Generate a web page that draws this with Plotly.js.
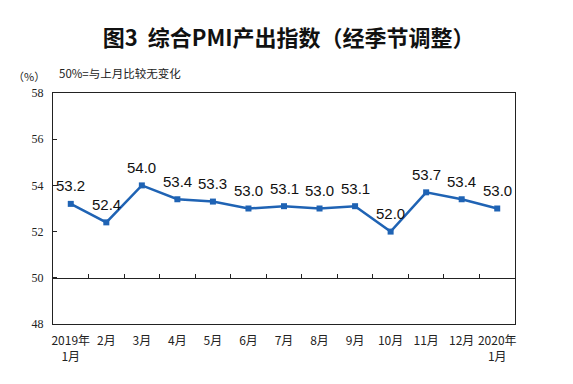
<!DOCTYPE html>
<html><head><meta charset="utf-8">
<script src="https://cdn.plot.ly/plotly-3.0.1.min.js"></script>
<style>html,body{margin:0;padding:0;background:#fff;}#c{width:573px;height:384px;}</style>
</head><body><div id="c"></div>
<script>
var categories = ["2019年<br>1月","2月","3月","4月","5月","6月","7月","8月","9月","10月","11月","12月","2020年<br>1月"];
var values = [53.2,52.4,54.0,53.4,53.3,53.0,53.1,53.0,53.1,52.0,53.7,53.4,53.0];
var labels = values.map(function(v){return v.toFixed(1);});
var yTicks = [48,50,52,54,56,58];

var blue = "#1F63B4";
var cjk = "SimSun, 'Noto Sans CJK SC', sans-serif";

var traces = [
  {x: categories, y: values, type: "scatter", mode: "lines+markers",
   line: {color: blue, width: 2.5}, marker: {symbol: "square", size: 6, color: blue},
   hoverinfo: "skip", showlegend: false},
  {x: categories, y: [50,50,50,50,50,50,50,50,50,50,50,50,50], xaxis: "x2", type: "scatter",
   mode: "none", hoverinfo: "skip", showlegend: false}
];

var annotations = categories.map(function(c,i){
  return {x: c, y: values[i], xref: "x", yref: "y", text: labels[i], showarrow: false,
    yshift: 18, font: {family: "Arial, 'Liberation Sans', sans-serif", size: 15, color: "#111"}};
});
annotations.push({xref:"paper", yref:"paper", x:-0.013, y:1.075, xanchor:"right", yanchor:"middle",
  text:"（%）", showarrow:false, font:{family:cjk, size:11, color:"#222"}});
annotations.push({xref:"paper", yref:"paper", x:0.008, y:1.085, xanchor:"left", yanchor:"middle",
  text:"50%=与上月比较无变化", showarrow:false, font:{family:cjk, size:11.5, color:"#222"}});

var layout = {
  width: 573, height: 384,
  margin: {l: 53, r: 58, t: 93, b: 60},
  paper_bgcolor: "#fff", plot_bgcolor: "#fff",
  title: {text: "<b>图3  综合PMI产出指数（经季节调整）</b>", x: 0.51, xref: "paper", xanchor: "center", y: 0.9, yanchor: "middle",
    font: {family: "'Noto Sans CJK SC', sans-serif", size: 22, color: "#111"}},
  xaxis: {type: "category", range: [-0.5, 12.5], showgrid: false, zeroline: false,
    showline: true, linecolor: "#222", linewidth: 1, mirror: true, ticks: "",
    ticklabelstandoff: 6,
    tickfont: {family: cjk, size: 12, color: "#222"}, fixedrange: true},
  xaxis2: {type: "category", overlaying: "x", anchor: "free", position: 0.2, range: [-0.5, 12.5],
    showgrid: false, zeroline: false, showline: true, linecolor: "#222", linewidth: 1,
    ticks: "inside", ticklen: 4, tickcolor: "#222", tickson: "boundaries", showticklabels: false},
  yaxis: {range: [48, 58], tickvals: yTicks, ticktext: yTicks.map(String), showgrid: false, zeroline: false,
    showline: true, linecolor: "#222", linewidth: 1, mirror: true,
    ticks: "inside", ticklen: 4, tickcolor: "#222", ticklabelstandoff: 6,
    tickfont: {family: "'Liberation Serif', 'Times New Roman', serif", size: 12, color: "#222"}},
  annotations: annotations
};
Plotly.newPlot("c", traces, layout, {displayModeBar: false, staticPlot: true});
</script></body></html>
